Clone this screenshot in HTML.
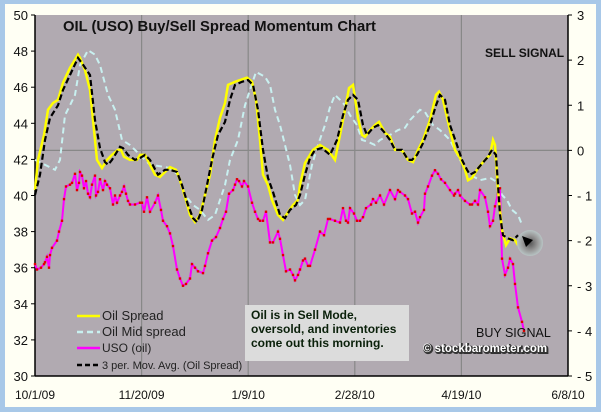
<!DOCTYPE html>
<html><head><meta charset="utf-8"><style>
html,body{margin:0;padding:0;width:601px;height:412px;overflow:hidden;background:#a8c8e8;}
svg{display:block;font-family:"Liberation Sans",Arial,sans-serif;}
</style></head><body>
<svg id="chart" width="601" height="412">
<rect x="5" y="4" width="591" height="403" fill="#fffff4"/>
<defs><radialGradient id="rg"><stop offset="0" stop-color="#555"/><stop offset="0.6" stop-color="#999"/><stop offset="1" stop-color="#b8c4c4"/></radialGradient></defs>
</svg>
<script>
const dateTicks=["10/1/09","11/20/09","1/9/10","2/28/10","4/19/10","6/8/10"];
const leftTicks=[30,32,34,36,38,40,42,44,46,48,50];
const rightTicks=[3,2,1,0,-1,-2,-3,-4,-5];
const spreadT=[0,3,9,13,18,23,28,35,43,45,50,55,58,62,67,72,77,83,86,89,95,102,105,110,115,120,125,130,135,141,145,151,155,160,165,170,175,180,185,190,193,200,205,212,217,221,225,228,233,237,243,248,253,258,263,265,270,278,285,293,300,305,310,314,318,323,327,330,335,340,344,350,355,360,365,368,373,378,383,388,395,401,404,408,415,420,425,430,433,437,442,448,455,458,460,463,467,471,475,480,483];
const spreadV=[-0.88,-0.21,0.34,0.9,1.05,1.12,1.5,1.83,2.12,2.05,1.78,1.34,0.67,-0.21,-0.39,-0.21,-0.1,0.01,0.01,-0.14,-0.21,-0.21,-0.1,-0.1,-0.32,-0.54,-0.59,-0.48,-0.37,-0.43,-0.66,-1.1,-1.43,-1.59,-1.43,-0.99,-0.54,0.23,0.72,1.05,1.45,1.52,1.56,1.61,1.52,1.12,0.23,-0.54,-0.77,-1.1,-1.43,-1.54,-1.37,-1.21,-1.1,-0.77,-0.28,0.01,0.12,0.01,-0.21,0.34,0.9,1.38,1.45,0.72,0.34,0.3,0.45,0.56,0.63,0.39,0.3,0.01,0.01,-0.03,-0.21,-0.26,0.01,0.23,0.67,1.23,1.3,1.12,0.45,0.01,-0.17,-0.43,-0.66,-0.61,-0.43,-0.26,-0.1,0.23,0.12,-0.88,-1.77,-2.1,-1.95,-1.99,-2.1];
const maT=[0,5,10,15,23,28,35,43,48,55,60,65,70,73,77,85,88,93,100,105,110,115,123,130,135,142,147,153,158,162,167,172,177,183,190,195,200,207,213,218,223,228,233,238,245,250,255,261,265,270,275,280,287,295,302,308,313,318,323,328,332,338,343,349,355,360,367,373,377,382,388,395,401,405,410,415,422,427,432,435,440,446,452,457,461,465,468,473,478,483];
const maV=[-0.99,-0.54,0.23,0.72,1.0,1.34,1.67,2.05,1.9,1.67,0.67,0.05,-0.26,-0.32,-0.21,0.08,0.05,-0.1,-0.21,-0.17,-0.1,-0.21,-0.54,-0.43,-0.43,-0.48,-0.77,-1.21,-1.5,-1.59,-1.32,-0.77,-0.21,0.34,0.63,1.12,1.45,1.52,1.56,1.45,0.9,0.01,-0.61,-0.92,-1.43,-1.5,-1.32,-1.21,-0.99,-0.54,-0.17,0.01,0.05,-0.1,0.23,0.78,1.12,1.23,1.12,0.56,0.34,0.5,0.56,0.41,0.23,0.01,0.01,-0.21,-0.21,-0.1,0.16,0.56,1.0,1.23,1.12,0.56,0.12,-0.21,-0.43,-0.54,-0.48,-0.32,-0.17,0.01,-0.1,-1.43,-1.88,-1.95,-1.99,-1.88];
const midT=[0,10,20,25,30,35,40,45,53,60,65,73,80,87,95,105,115,125,135,143,150,158,165,173,180,185,190,195,203,210,215,221,230,235,240,245,250,255,260,265,270,277,283,290,295,300,305,310,315,322,327,333,340,345,355,363,370,375,385,390,398,405,410,415,425,435,445,455,462,467,472,477,483,487];
const midV=[-0.21,-0.32,-0.43,-0.21,0.78,1.0,1.23,1.89,2.22,2.12,1.89,1.23,0.9,0.23,0.12,-0.1,-0.32,-0.35,-0.39,-0.54,-0.99,-1.21,-1.32,-1.54,-1.43,-1.1,-0.77,-0.21,0.23,1.0,1.34,1.74,1.63,1.45,0.9,0.56,0.12,-0.32,-0.99,-1.21,-1.1,-0.32,0.12,0.56,0.96,1.23,1.12,1.0,0.78,0.56,0.23,0.19,0.12,0.23,0.34,0.45,0.5,0.67,0.9,0.85,0.56,0.45,0.34,0.23,-0.21,-0.54,-0.66,-0.61,-0.7,-0.99,-1.1,-1.32,-1.43,-1.65];
const usoT=[0,2,6,9,10,12,14,15,17,22,24,27,29,31,35,37,40,42,44,45,47,49,51,53,55,57,60,61,63,65,68,70,72,75,78,80,82,85,87,89,91,93,95,100,105,107,109,112,115,120,123,126,128,132,135,138,142,145,148,151,155,157,160,163,168,170,173,177,181,185,188,191,194,198,200,202,204,207,209,213,217,220,223,225,228,231,235,238,243,245,248,251,255,258,260,263,265,268,270,273,275,280,285,289,293,295,300,305,308,311,313,315,319,322,325,328,331,336,338,341,345,349,355,360,363,365,370,373,377,380,383,385,389,390,393,397,400,403,406,410,415,419,420,423,425,430,435,437,440,443,445,450,453,455,458,460,463,465,467,470,473,475,478,480,483,487,489];
const usoV=[36.2,35.9,36.0,36.2,36.3,36.6,36.0,36.7,37.1,37.5,38.0,38.6,39.8,40.5,40.6,40.7,41.2,40.3,40.7,41.3,41.1,40.4,40.8,40.1,39.9,40.6,41.1,40.0,40.2,40.9,40.3,40.8,40.6,40.4,39.5,40.0,39.6,40.0,40.2,40.5,40.1,39.7,39.5,39.5,39.6,39.6,39.1,39.9,39.1,39.6,40.0,39.2,38.6,38.3,37.9,37.2,35.9,35.4,35.0,35.1,35.4,36.2,36.0,35.8,35.7,36.1,36.8,37.5,37.7,38.2,38.7,39.1,40.1,40.3,40.6,40.9,40.8,40.5,40.8,40.5,39.6,39.1,38.7,38.6,38.6,39.1,37.4,37.4,38.0,37.6,36.7,35.8,35.9,35.6,35.3,35.6,35.9,36.4,36.5,36.1,36.1,37.0,38.0,37.8,38.7,38.7,38.6,38.5,39.3,38.6,38.5,39.3,39.0,38.6,38.6,38.8,39.3,39.5,39.8,39.6,40.0,39.5,40.3,39.8,40.3,40.2,40.0,39.8,39.0,39.1,38.5,38.8,39.2,40.1,40.5,41.1,41.4,41.2,40.9,40.7,40.3,40.0,40.1,40.3,40.0,39.7,39.5,39.5,39.7,39.5,40.3,39.9,39.1,38.3,38.6,39.4,40.1,40.4,36.5,35.6,36.0,36.5,36.2,35.1,33.8,33.0,32.5];

const svg=document.getElementById('chart');
const NS='http://www.w3.org/2000/svg';
const L=35,R=568,T=15,B=376;
const xS=t=>L+t*(R-L)/533;
const yL=v=>B-(v-30)*(B-T)/20;
const yR=v=>B-(v+5)*(B-T)/8;
function mk(tag,attrs,parent){const e=document.createElementNS(NS,tag);for(const k in attrs)e.setAttribute(k,attrs[k]);(parent||svg).appendChild(e);return e;}

const plot=mk('rect',{x:L,y:T,width:R-L,height:B-T,fill:'#b1aab1'});



dateTicks.forEach((d,i)=>{
  const x=xS(i*533/5);
  if(i>0&&i<5){const g=mk('line',{x1:x,x2:x,y1:T,y2:B,stroke:'#888',"stroke-width":1.2});
    
    }
  const t=mk('text',{x:x,y:399,"text-anchor":"middle","font-size":12,fill:'#111'});t.textContent=d;
  
  
});
const hg=mk('line',{x1:L,x2:R,y1:yR(0),y2:yR(0),stroke:'#888',"stroke-width":1.2});



const axL=mk('line',{x1:L,x2:L,y1:T,y2:B,stroke:'#000',"stroke-width":1.5});


const axR=mk('line',{x1:R,x2:R,y1:T,y2:B,stroke:'#000',"stroke-width":1.5});


const axB=mk('line',{x1:L,x2:R,y1:B,y2:B,stroke:'#000',"stroke-width":1.5});



leftTicks.forEach(v=>{const y=yL(v);mk('line',{x1:L-4,x2:L,y1:y,y2:y,stroke:'#000'});
  const t=mk('text',{x:L-7,y:y+5,"text-anchor":"end","font-size":13,fill:'#111'});t.textContent=v;
  
  });
rightTicks.forEach(v=>{const y=yR(v);mk('line',{x1:R,x2:R+4,y1:y,y2:y,stroke:'#000'});
  const t=mk('text',{x:R+9,y:y+5,"font-size":13,fill:'#111'});t.textContent=v===0?'0':(v<0?'- '+(-v):v);
  
  });

function pts(ts,vs,f){return ts.map((t,i)=>xS(t).toFixed(1)+','+f(vs[i]).toFixed(1)).join(' ');}
const mid=mk('polyline',{points:pts(midT,midV,yR),fill:'none',stroke:'#c8f0f0',"stroke-width":2,"stroke-dasharray":"6,4"});


const uso=mk('polyline',{points:pts(usoT,usoV,yL),fill:'none',stroke:'#ff00ff',"stroke-width":2});


usoT.forEach((t,i)=>{const c=mk('rect',{x:xS(t)-1.2,y:yL(usoV[i])-1.2,width:2.4,height:2.4,fill:'#e00000'});
  
  });
const sp=mk('polyline',{points:pts(spreadT,spreadV,yR),fill:'none',stroke:'#ffff00',"stroke-width":2.5});


const ma=mk('polyline',{points:pts(maT,maV,yR),fill:'none',stroke:'#000',"stroke-width":2.2,"stroke-dasharray":"6,3"});



const circ=mk('circle',{cx:530,cy:243,r:13,fill:'url(#rg)'});


const arr=mk('polygon',{points:'522,236 533,240 526,247',fill:'#000'});



function txt(x,y,s,attrs,name){const t=mk('text',Object.assign({x:x,y:y},attrs));t.textContent=s;
  
  return t;}
txt(63,31,'OIL (USO) Buy/Sell Spread Momentum Chart',{"font-size":14.8,"font-weight":"bold",fill:'#111'},'chart-title');
txt(485,57,'SELL SIGNAL',{"font-size":12,"font-weight":"bold",fill:'#111'},'sell-signal-label');
txt(476,337,'BUY SIGNAL',{"font-size":12.5,fill:'#111'},'buy-signal-label');
txt(424,353,'© stockbarometer.com',{"font-size":11.5,"font-weight":"bold",fill:'#333',"stroke":"#333","stroke-width":2},'watermark-shadow');
txt(423,352,'© stockbarometer.com',{"font-size":11.5,"font-weight":"bold",fill:'#fff'},'watermark');

const box=mk('rect',{x:245,y:305,width:164,height:56,fill:'#dcdcdc'});


txt(251,319,'Oil is in Sell Mode,',{"font-size":12,"font-weight":"bold",fill:'#0a200a'},'annotation-line-1');
txt(251,333,'oversold, and inventories',{"font-size":12,"font-weight":"bold",fill:'#0a200a'},'annotation-line-2');
txt(251,347,'come out this morning.',{"font-size":12,"font-weight":"bold",fill:'#0a200a'},'annotation-line-3');

const leg=[['Oil Spread','#ffff00',''],['Oil Mid spread','#c8f0f0','6,4'],['USO (oil)','#ff00ff',''],['3 per. Mov. Avg. (Oil Spread)','#000','5,3']];
const legY=[316,332,348,365],legFs=[13,13,12,11];
leg.forEach((l,i)=>{
  const ln=mk('line',{x1:77,x2:100,y1:legY[i],y2:legY[i],stroke:l[1],"stroke-width":2.5,"stroke-dasharray":l[2]});
  
  
  txt(102,legY[i]+4,l[0],{"font-size":legFs[i],fill:'#222'},'legend-entry');
});
</script>
</body></html>
